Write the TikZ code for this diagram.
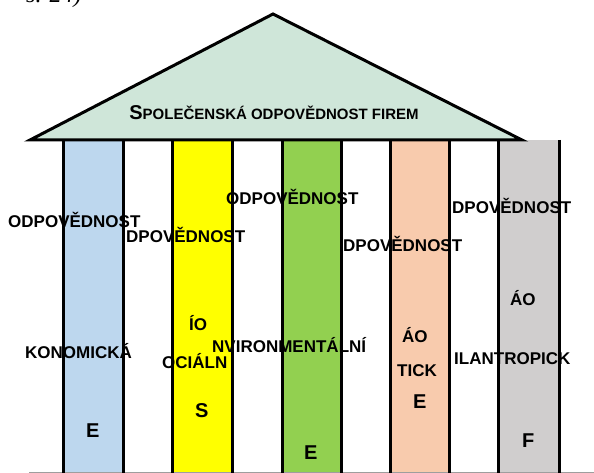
\documentclass[tikz,border=0pt]{standalone}
\usepackage{fontspec}
\setmainfont{Liberation Sans}
\newfontfamily\serifx{Liberation Serif}
\definecolor{roofc}{RGB}{207,230,217}
\definecolor{cblue}{RGB}{189,215,238}
\definecolor{cyellow}{RGB}{255,255,0}
\definecolor{cgreen}{RGB}{146,208,80}
\definecolor{cpeach}{RGB}{248,203,173}
\definecolor{cgray}{RGB}{208,206,206}
\begin{document}
\begin{tikzpicture}[x=1bp,y=-1bp,
  lbl/.style={inner sep=0pt, anchor=base west, font=\bfseries\fontsize{17bp}{20bp}\selectfont},
  biglbl/.style={inner sep=0pt, anchor=base west, font=\bfseries\fontsize{20bp}{24bp}\selectfont},
  pillar/.style={line width=3bp}]
\useasboundingbox (0,0) rectangle (594,473);
\clip (0,0) rectangle (594,473);
% fragment at top
\node[inner sep=0pt, anchor=base west, font=\serifx\itshape\fontsize{24bp}{28bp}\selectfont] (frag) at (26,3) {s. 24)};
% column fills
\fill[cblue]   (63,140) rectangle (123,473);
\fill[cyellow] (172,140) rectangle (232,473);
\fill[cgreen]  (282,140) rectangle (341,473);
\fill[cpeach]  (390,140) rectangle (449,473);
\fill[cgray]   (498,140) rectangle (559,473);
% bottom line
\draw[black!38, line width=1.2bp] (29,472.5) -- (594,472.5);
% pillar lines
\foreach \x in {63,123,172,232,282,341,390,449,498,559}
  \draw[pillar] (\x,140) -- (\x,473);
% roof
\draw[fill=roofc, line width=3bp, line join=miter] (30,140) -- (273,14) -- (522,140) -- cycle;
\node[inner sep=0pt, anchor=base, font=\bfseries] (title) at (274,120)
  {\fontsize{20bp}{24bp}\selectfont S\fontsize{15bp}{18bp}\selectfont POLEČENSKÁ ODPOVĚDNOST FIREM};
% labels
\node[lbl] (t1) at (8,228) {ODPOVĚDNOST};
\node[lbl] (t2) at (126,243) {DPOVĚDNOST};
\node[lbl] (t3) at (226,205) {ODPOVĚDNOST};
\node[lbl] (t4) at (343,252) {DPOVĚDNOST};
\node[lbl] (t5) at (452,214) {DPOVĚDNOST};
\node[lbl] (t6) at (25,358) {KONOMICKÁ};
\node[lbl] (t7) at (189,330) {ÍO};
\node[lbl] (t8) at (162,368) {OCIÁLN};
\node[lbl] (t9) at (212,352) {NVIRONMENTÁLNÍ};
\node[lbl] (t10) at (402,342) {ÁO};
\node[lbl] (t11) at (397,376) {TICK};
\node[lbl] (t12) at (454,364) {ILANTROPICK};
\node[lbl] (t13) at (510,305) {ÁO};
\node[biglbl] (b1) at (86,437) {E};
\node[biglbl] (b2) at (195,417) {S};
\node[biglbl] (b3) at (304,459) {E};
\node[biglbl] (b4) at (413,408) {E};
\node[biglbl] (b5) at (522,447) {F};
\end{tikzpicture}
\end{document}
